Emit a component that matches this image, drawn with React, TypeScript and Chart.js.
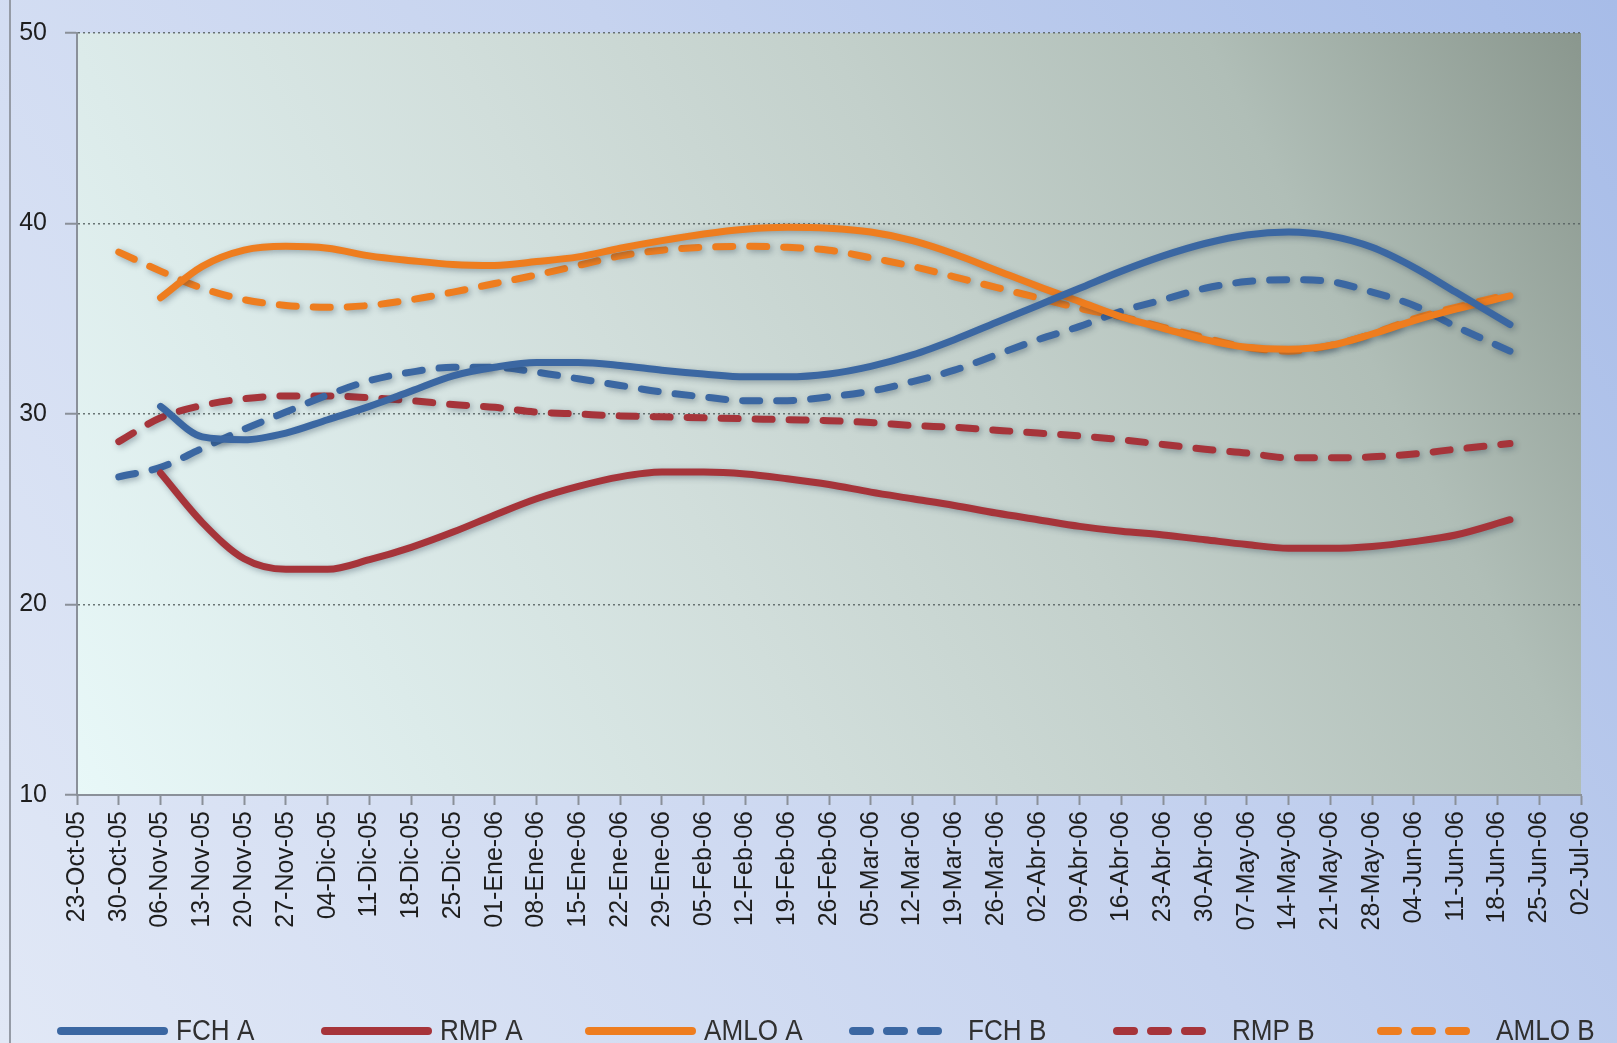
import React, { useEffect, useRef } from "react";
import { Chart, registerables } from "chart.js";

Chart.register(...registerables);

// Week tick labels (x axis), one per week from 23-Oct-05 to 02-Jul-06
const weekLabels = [
  "23-Oct-05", "30-Oct-05", "06-Nov-05", "13-Nov-05", "20-Nov-05", "27-Nov-05",
  "04-Dic-05", "11-Dic-05", "18-Dic-05", "25-Dic-05", "01-Ene-06", "08-Ene-06",
  "15-Ene-06", "22-Ene-06", "29-Ene-06", "05-Feb-06", "12-Feb-06", "19-Feb-06",
  "26-Feb-06", "05-Mar-06", "12-Mar-06", "19-Mar-06", "26-Mar-06", "02-Abr-06",
  "09-Abr-06", "16-Abr-06", "23-Abr-06", "30-Abr-06", "07-May-06", "14-May-06",
  "21-May-06", "28-May-06", "04-Jun-06", "11-Jun-06", "18-Jun-06", "25-Jun-06",
  "02-Jul-06",
];

// x positions (week index on the axis) of the sampled values
const weeksA = [2, 3, 4, 5, 6, 7, 8, 9, 10, 11, 12, 13, 14, 15, 16, 17, 18, 19, 20, 21, 22, 23, 24, 25, 26, 27, 28, 29, 30, 31, 32, 33, 34.3];
const weeksB = [1, 2, 3, 4, 5, 6, 7, 8, 9, 10, 11, 12, 13, 14, 15, 16, 17, 18, 19, 20, 21, 22, 23, 24, 25, 26, 27, 28, 29, 30, 31, 32, 33, 34.3];

// Series A (solid)
const fchA = [30.4, 28.8, 28.65, 29.0, 29.7, 30.4, 31.2, 32.0, 32.45, 32.7, 32.7, 32.55, 32.3, 32.1, 31.95, 31.95, 32.1, 32.5, 33.1, 33.9, 34.8, 35.7, 36.6, 37.5, 38.3, 38.95, 39.4, 39.55, 39.35, 38.75, 37.7, 36.4, 34.7];
const rmpA = [26.9, 24.3, 22.4, 21.85, 21.85, 22.35, 23.0, 23.8, 24.7, 25.55, 26.2, 26.7, 26.95, 26.95, 26.85, 26.6, 26.3, 25.9, 25.55, 25.2, 24.8, 24.45, 24.1, 23.85, 23.65, 23.4, 23.15, 22.95, 22.95, 23.05, 23.3, 23.65, 24.45];
const amloA = [36.1, 37.75, 38.6, 38.8, 38.7, 38.3, 38.05, 37.85, 37.8, 38.0, 38.25, 38.7, 39.1, 39.45, 39.7, 39.8, 39.75, 39.55, 39.1, 38.4, 37.55, 36.7, 35.9, 35.1, 34.5, 33.9, 33.5, 33.4, 33.6, 34.2, 34.9, 35.5, 36.2];

// Series B (dashed)
const fchB = [26.7, 27.2, 28.2, 29.2, 30.1, 31.0, 31.75, 32.2, 32.45, 32.45, 32.2, 31.85, 31.5, 31.15, 30.9, 30.7, 30.7, 30.9, 31.2, 31.7, 32.3, 33.1, 33.9, 34.6, 35.4, 36.0, 36.6, 36.95, 37.05, 36.95, 36.4, 35.7, 34.6, 33.3];
const rmpB = [28.55, 29.8, 30.45, 30.8, 30.95, 30.95, 30.85, 30.7, 30.5, 30.35, 30.1, 30.0, 29.9, 29.85, 29.8, 29.75, 29.7, 29.65, 29.55, 29.4, 29.3, 29.15, 29.0, 28.85, 28.65, 28.4, 28.15, 27.95, 27.7, 27.7, 27.75, 27.9, 28.15, 28.45];
const amloB = [38.5, 37.5, 36.6, 36.0, 35.7, 35.6, 35.7, 36.0, 36.4, 36.85, 37.3, 37.8, 38.3, 38.6, 38.75, 38.8, 38.75, 38.6, 38.2, 37.75, 37.2, 36.65, 36.1, 35.55, 35.1, 34.55, 34.0, 33.5, 33.3, 33.6, 34.2, 35.0, 35.6, 36.3];

const yTicks = [10, 20, 30, 40, 50];

const BLUE = "#3b67a2";
const RED = "#a6343a";
const ORANGE = "#ee7d1f";

const W = 1617;
const H = 1043;

const pts = (xs: number[], ys: number[]) => xs.map((x, i) => ({ x, y: ys[i] }));

const bgPlugin = {
  id: "bgPlugin",
  beforeDraw(chart: any) {
    const { ctx, width, height, chartArea: a } = chart;
    ctx.save();
    const g = ctx.createLinearGradient(width, 0, 0, height);
    g.addColorStop(0, "#a7bce8");
    g.addColorStop(0.45, "#c6d3ef");
    g.addColorStop(1, "#e1e8f6");
    ctx.fillStyle = g;
    ctx.fillRect(0, 0, width, height);
    const p = ctx.createLinearGradient(a.left, a.bottom, a.right, a.top);
    p.addColorStop(0, "#e8f8f8");
    p.addColorStop(0.2, "#dcebea");
    p.addColorStop(0.4, "#d1dedb");
    p.addColorStop(0.6, "#c3d0cb");
    p.addColorStop(0.8, "#b0beb7");
    p.addColorStop(1, "#8a978e");
    ctx.fillStyle = p;
    ctx.fillRect(a.left, a.top, a.right - a.left, a.bottom - a.top);
    ctx.strokeStyle = "#959ba6";
    ctx.lineWidth = 2;
    ctx.beginPath();
    ctx.moveTo(10, 0);
    ctx.lineTo(10, height);
    ctx.stroke();
    ctx.restore();
  },
};

const shadowPlugin = {
  id: "shadowPlugin",
  beforeDatasetsDraw(chart: any) {
    const ctx = chart.ctx;
    ctx.save();
    ctx.shadowColor = "rgba(30, 50, 70, 0.38)";
    ctx.shadowBlur = 6;
    ctx.shadowOffsetX = 2;
    ctx.shadowOffsetY = 2;
  },
  afterDatasetsDraw(chart: any) {
    chart.ctx.restore();
  },
};

const slotLegendPlugin = {
  id: "slotLegendPlugin",
  afterDraw(chart: any) {
    const { ctx } = chart;
    chart.data.datasets.forEach((ds: any, k: number) => {
      const x0 = 61 + k * 264;
      const y = 1031;
      const dashed = Array.isArray(ds.borderDash) && ds.borderDash.length > 0;
      ctx.save();
      ctx.strokeStyle = ds.borderColor;
      ctx.lineWidth = 8;
      ctx.lineCap = "round";
      ctx.setLineDash(dashed ? ds.borderDash : []);
      ctx.beginPath();
      ctx.moveTo(x0, y);
      ctx.lineTo(x0 + (dashed ? 86 : 103), y);
      ctx.stroke();
      ctx.setLineDash([]);
      ctx.fillStyle = "#303030";
      ctx.font = '30px "Liberation Sans", Arial, sans-serif';
      ctx.textBaseline = "alphabetic";
      ctx.textAlign = "left";
      ctx.translate(x0 + 115, 1040);
      ctx.scale(0.87, 1);
      ctx.fillText(ds.label, 0, 0);
      ctx.restore();
    });
  },
};

export default function App() {
  const ref = useRef<HTMLCanvasElement | null>(null);

  useEffect(() => {
    if (!ref.current) return;
    const solid = (label: string, color: string, xs: number[], ys: number[]) => ({
      label,
      data: pts(xs, ys),
      borderColor: color,
      backgroundColor: color,
      borderWidth: 7,
      borderCapStyle: "round",
      borderJoinStyle: "round",
      pointRadius: 0,
      fill: false,
      cubicInterpolationMode: "monotone",
    });
    const dashed = (label: string, color: string, xs: number[], ys: number[]) => ({
      ...solid(label, color, xs, ys),
      borderDash: [17, 17],
    });

    const chart = new Chart(ref.current, {
      type: "line",
      data: {
        datasets: [
          solid("FCH A", BLUE, weeksA, fchA),
          solid("RMP A", RED, weeksA, rmpA),
          solid("AMLO A", ORANGE, weeksA, amloA),
          dashed("FCH B", BLUE, weeksB, fchB),
          dashed("RMP B", RED, weeksB, rmpB),
          dashed("AMLO B", ORANGE, weeksB, amloB),
        ] as any,
      },
      options: {
        responsive: false,
        devicePixelRatio: 1,
        animation: false,
        layout: { padding: { left: 0, right: 24, top: 28, bottom: 78 } },
        plugins: {
          legend: { display: false },
          tooltip: { enabled: false },
        },
        scales: {
          x: {
            type: "linear",
            min: 0,
            max: weekLabels.length - 1,
            afterFit: (s: any) => {
              s.height = 170;
            },
            ticks: {
              stepSize: 1,
              autoSkip: false,
              maxRotation: 90,
              minRotation: 90,
              padding: 6,
              color: "#1e1e1e",
              font: { family: '"Liberation Sans", Arial, sans-serif', size: 25 },
              callback: (v: any) => weekLabels[Math.round(Number(v))] ?? "",
            },
            grid: {
              drawOnChartArea: false,
              drawTicks: true,
              tickLength: 10,
              tickColor: "#8a9099",
              tickWidth: 2,
            },
            border: { display: true, color: "#8a9099", width: 2 },
          },
          y: {
            min: yTicks[0],
            max: yTicks[yTicks.length - 1],
            afterFit: (s: any) => {
              s.width = 77;
            },
            afterBuildTicks: (s: any) => {
              s.ticks = yTicks.map((v) => ({ value: v }));
            },
            ticks: {
              padding: 18,
              color: "#1e1e1e",
              font: { family: '"Liberation Sans", Arial, sans-serif', size: 25 },
            },
            grid: {
              color: "rgba(85, 95, 95, 0.85)",
              lineWidth: 1.5,
              drawTicks: true,
              tickLength: 12,
              tickColor: "#8a9099",
              tickWidth: 2,
              tickBorderDash: [1, 0],
            },
            border: { display: true, color: "#8a9099", width: 2, dash: [2, 3] },
          },
        },
      } as any,
      plugins: [bgPlugin, shadowPlugin, slotLegendPlugin],
    });
    return () => chart.destroy();
  }, []);

  return (
    <div style={{ position: "fixed", left: 0, top: 0, width: W, height: H, overflow: "hidden" }}>
      <canvas ref={ref} width={W} height={H} style={{ display: "block", width: W, height: H }} />
    </div>
  );
}
